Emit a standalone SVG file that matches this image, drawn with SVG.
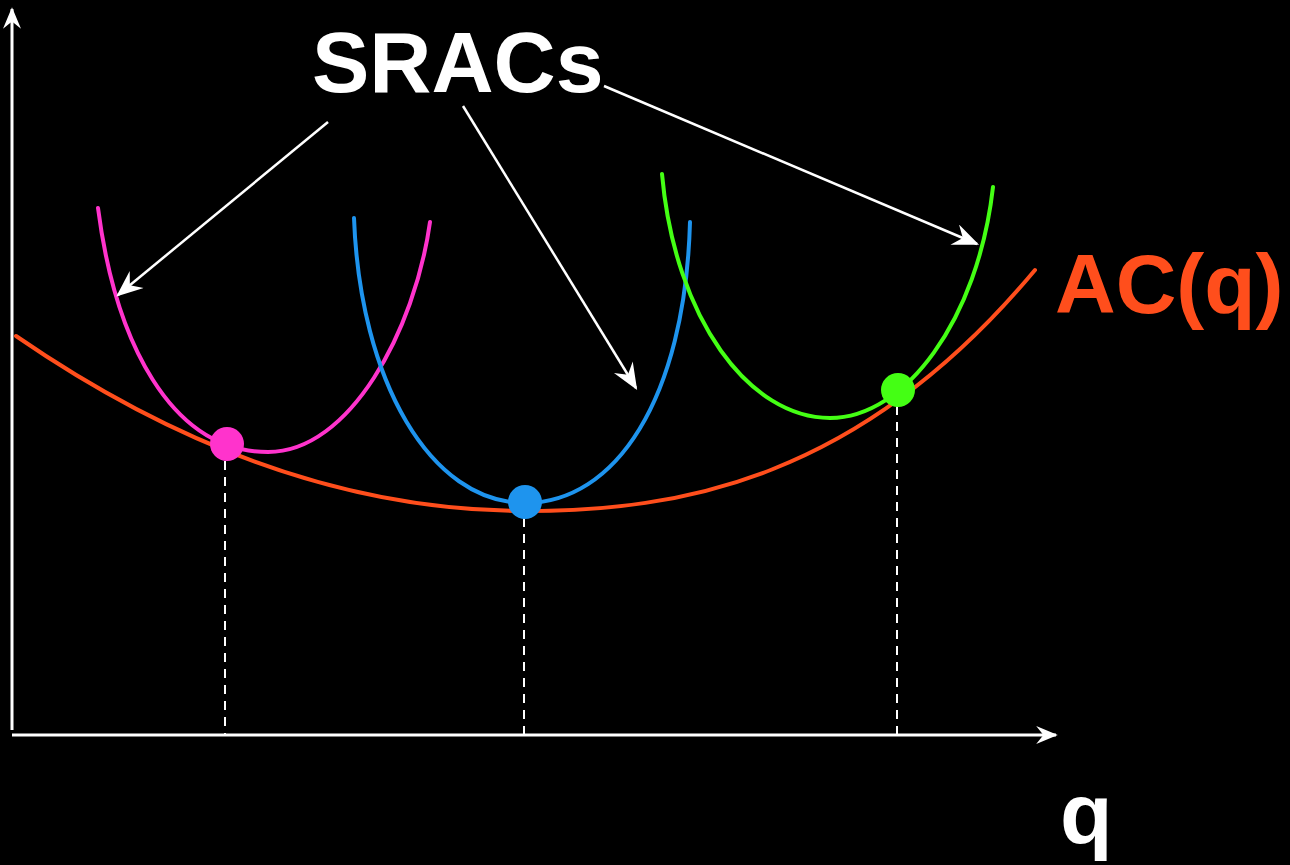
<svg xmlns="http://www.w3.org/2000/svg" width="1290" height="865" viewBox="0 0 1290 865">
<defs>
<marker id="axh" viewBox="0 0 12 10" refX="11" refY="5" markerWidth="26" markerHeight="18" markerUnits="userSpaceOnUse" orient="auto">
<path d="M0,0 L12,5 L0,10 L4,5 z" fill="#fff"/>
</marker>
<marker id="lh" viewBox="0 0 12 10" refX="11" refY="5" markerWidth="30" markerHeight="22" markerUnits="userSpaceOnUse" orient="auto">
<path d="M0,0 L12,5 L0,10 L4,5 z" fill="#fff"/>
</marker>
</defs>
<style>
.axis{stroke:#fff;stroke-width:3;fill:none}
.ptr{stroke:#fff;stroke-width:2.5;fill:none}
.dash{stroke:#fff;stroke-width:2;stroke-dasharray:9,7;fill:none}
.curve{fill:none;stroke-width:4;stroke-linecap:round}
.lbl{font-family:"Liberation Sans",Arial,sans-serif;font-weight:bold}
</style>
<rect width="1290" height="865" fill="#000"/>
<g id="axes">
<line class="axis" x1="12" y1="730" x2="12" y2="9" marker-end="url(#axh)"/>
<line class="axis" x1="12" y1="735" x2="1056" y2="735" marker-end="url(#axh)"/>
</g>
<g id="guides">
<line class="dash" x1="225" y1="445" x2="225" y2="735"/>
<line class="dash" x1="524" y1="502" x2="524" y2="735"/>
<line class="dash" x1="897" y1="390" x2="897" y2="735"/>
</g>
<g id="ac">
<path class="curve" stroke="#FF4E1C" d="M16,336 Q270,511 525,511 C680,511 860,480 1035,270"/>
</g>
<g id="srac1">
<path class="curve" stroke="#FF33CC" d="M98,208 C115,340 170,452 268,452 C350,452 415,330 430,222"/>
<circle cx="227" cy="444" r="17" fill="#FF33CC"/>
</g>
<g id="srac2">
<path class="curve" stroke="#1E94EE" d="M354,218 C360,380 430,503 525,503 C615,503 685,400 690,222"/>
<circle cx="525" cy="502" r="17" fill="#1E94EE"/>
</g>
<g id="srac3">
<path class="curve" stroke="#44FF14" d="M662,174 C675,320 750,418 830,418 C905,418 978,320 993,187"/>
<circle cx="898" cy="390" r="17" fill="#44FF14"/>
</g>
<g id="connectors">
<line class="ptr" x1="328" y1="122" x2="118" y2="295" marker-end="url(#lh)"/>
<line class="ptr" x1="463" y1="106" x2="636" y2="388" marker-end="url(#lh)"/>
<line class="ptr" x1="604" y1="86" x2="977" y2="244" marker-end="url(#lh)"/>
</g>
<g id="labels">
<text class="lbl" x="312" y="92" font-size="86" fill="#fff">SRACs</text>
<text class="lbl" x="1055" y="313" font-size="84" fill="#FF4E1C">AC(q)</text>
<text class="lbl" x="1060" y="843" font-size="86" fill="#fff">q</text>
</g>
</svg>
